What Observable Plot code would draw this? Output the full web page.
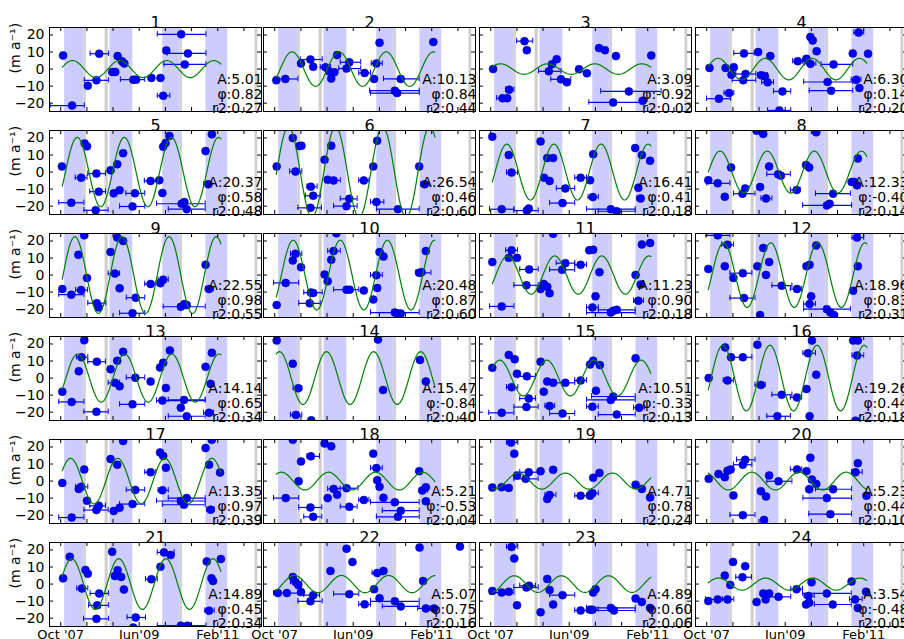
<!DOCTYPE html>
<html><head><meta charset="utf-8">
<script src="https://cdn.jsdelivr.net/npm/d3@7"></script>
<script src="https://cdn.jsdelivr.net/npm/@observablehq/plot@0.6"></script>
<style>
html,body{margin:0;padding:0;background:#fff;overflow:hidden;}
#chart{position:relative;width:904px;height:639px;overflow:hidden;background:#fff;}
</style></head><body><div id="chart"></div>
<script>
// ---- axis / layout labels ----
const xTickMonths = [0, 20, 40];               // months since Oct 2007
const xTickLabels = ["Oct '07", "Jun'09", "Feb'11"];
const xMinorTicks = [0, 6.67, 13.33, 20, 26.67, 33.33, 40, 46.67];
const yTicks = [-20, -10, 0, 10, 20];
const yLabel = "(m a\u207B\u00B9)";
const xDomain = [-2.86, 51.15];
const yDomain = [-24.9, 24.4];

// shaded periods (months since Oct 2007)
const winterBands = [[1.0, 5.95], [12.55, 18.35], [26.0, 30.45], [37.0, 42.55]];
const greyBands = [[5.95, 6.5], [11.3, 12.1], [30.45, 31.0], [49.5, 50.2]];

// ---- per-panel fit statistics ----
const panelIds = d3.range(1, 25);
const amplitudes = [5.01,10.13,3.09,6.30,20.37,26.54,16.41,12.33,22.55,20.48,11.23,18.96,14.14,15.47,10.51,19.26,13.35,5.21,4.71,5.23,14.89,5.07,4.89,3.54];
const phis = ["0.82","0.84","-0.92","0.14","0.58","0.46","0.41","-0.40","0.98","0.87","0.90","0.83","0.65","-0.84","-0.33","0.44","0.97","-0.53","0.78","0.44","0.45","0.75","0.60","-0.48"];
const r2s = ["0.27","0.44","0.02","0.20","0.48","0.60","0.18","0.14","0.55","0.60","0.18","0.31","0.34","0.40","0.13","0.18","0.39","0.04","0.24","0.10","0.34","0.16","0.06","0.05"];
const peakMonths = [3.0,4.4,2.5,2.9,4.2,3.5,4.1,3.4,3.6,4.7,4.3,4.3,4.3,1.2,2.3,4.1,2.5,1.7,7.0,11.5,2.8,5.0,6.0,3.0];
const fitRange = [0.4, 40.8];

// ---- observations: [month, value, xerr-low, xerr-high] ----
const p01 = [[0.6,8.0],[2.9,-21.4,-2.7,6.0],[6.9,-9.8],[9.1,-6.6,6.0,12.2],[9.8,9.0,7.5,12.2],[13.1,-1.7],[13.9,-1.7],[14.5,7.6],[15.6,4.6],[16.2,3.3],[18.5,-6.2,15.2,21.4],[19.2,-6.2],[23.1,-5.2],[25.4,-5.2],[26.1,-15.7,24.6,27.8],[26.9,10.9],[30.7,20.4,24.6,37.0],[32.4,9.2,27.1,37.0],[31.6,2.7,26.3,37.0]];
const p02 = [[0.4,-6.6],[2.7,-5.8,0.1,5.9],[6.7,3.3],[9.1,5.6,6.5,12.1],[9.8,1.3],[12.9,1.1,11.6,14.2],[13.8,-1.3],[14.4,-5.6],[15.2,-1.9],[15.9,8.2],[18.3,0.3,16.3,21.9],[19.0,4.0,16.7,21.9],[22.9,-2.3,21.4,24.4],[25.3,-5.8],[25.9,3.3,24.6,27.4],[26.7,15.5],[30.6,-12.7,24.2,36.8],[31.2,-14.1,24.4,36.8],[32.1,-5.8,27.7,36.8],[40.4,15.9]];
const p03 = [[0.6,0.0],[3.0,-17.1,1.5,4.3],[4.2,-17.1],[4.7,-12.1,3.8,5.9],[8.6,16.4,6.6,10.7],[9.2,11.1],[14.8,-1.3,12.2,17.9],[15.6,2.8],[16.8,5.8],[17.9,-6.0,15.3,20.4],[19.4,-7.8],[22.5,-0.1],[24.5,-2.5],[27.6,12.3],[29.1,11.1],[31.9,7.6],[31.2,-19.6,25.0,38.3],[35.2,-13.1,28.0,43.4],[38.7,-18.6],[40.9,8.0]];
const p04 = [[0.7,0.7],[3.1,-17.4,-0.05,6.1],[4.8,0.7],[5.7,-14.1,4.4,6.9],[6.3,-3.3],[6.9,1.1],[9.3,-6.6,6.5,12.5],[9.9,-2.9,7.4,12.5],[9.5,9.2,6.9,12.1],[13.1,10.0],[13.9,-3.6,12.9,15.5],[14.8,-4.2],[15.5,-7.8,14.0,17.0],[16.2,7.6],[18.5,-24.3,15.5,21.4],[19.3,-13.1,17.0,21.4],[23.2,4.6,21.9,24.4],[25.4,6.0],[26.4,18.8],[27.0,16.8],[28.0,10.5],[26.4,3.1,24.8,27.8],[30.8,-7.6,24.7,37.2],[31.7,-12.7,26.1,37.2],[32.3,2.7,29.1,37.2],[37.2,9.2],[38.1,-6.2,36.8,39.3],[38.7,21.4,37.5,40.0],[38.9,-11.1],[41.1,9.0]];
const p05 = [[0.3,3.3],[2.7,-18.0,-0.5,5.9],[5.2,-3.3,3.7,6.7],[6.1,16.8],[6.7,15.1],[8.9,-22.4,5.9,12.1],[9.1,-0.9,6.9,11.4],[9.7,-11.5,7.4,11.4],[12.7,1.0],[13.5,-12.5],[14.4,4.6],[15.0,-10.7],[15.9,11.1],[18.3,-20.2,15.0,21.4],[18.9,-12.5,16.6,21.4],[22.9,-5.2,21.3,24.4],[25.1,-4.8],[25.9,-12.3],[26.1,14.9],[26.7,17.0],[27.7,21.2],[30.8,-18.6,24.4,36.8],[31.5,-17.6],[32.1,-21.8,27.4,36.8],[36.9,12.3],[37.6,-7.2,36.4,38.5],[38.5,22.2]];
const p06 = [[0.5,3.3],[4.6,20.0],[5.3,0.3,3.8,6.9],[6.3,15.3],[6.8,15.5],[9.2,-8.6,8.2,10.8],[9.8,-13.9,7.8,11.6],[9.1,-21.0,5.9,11.9],[12.7,7.2],[13.5,-4.5],[14.4,15.5],[15.0,-4.9,12.9,16.7],[18.3,-20.0,15.0,21.0],[19.0,-15.7,16.7,21.0],[22.7,-4.9,21.4,24.0],[25.1,3.3],[26.1,18.4],[25.9,-17.6,24.4,27.8],[31.4,-21.8,25.9,36.8],[36.8,3.3],[38.2,-7.2,37.2,39.3]];
const p07 = [[0.4,20.8],[2.8,-21.8,-0.3,5.9],[4.6,10.0],[5.3,-0.3,4.0,6.8],[9.2,-22.6,5.9,12.1],[9.7,-21.4],[12.7,18.0],[13.6,-3.3],[14.4,8.2],[15.0,-5.2],[15.9,8.2],[19.0,-9.6,16.7,21.4],[18.3,-18.2,15.0,21.4],[22.9,-3.3,21.4,24.4],[25.3,-4.8],[26.0,-14.7,24.8,27.4],[26.1,10.5],[30.6,-21.8,24.4,36.8],[32.1,-23.0,27.4,36.8],[36.8,14.1],[37.6,-9.2],[38.5,10.0],[40.6,6.6],[38.2,-15.5,37.2,38.9]];
const p08 = [[0.4,-4.8],[2.8,-6.6,0,5.9],[4.6,-14.5],[6.2,2.7],[9.1,-12.7,6.8,12.3],[9.8,-9.6],[12.7,24.3],[14.4,22.4],[13.6,-8.8],[15.1,-15.5,13.8,16.6],[15.9,3.3],[18.2,-1.3,15.3,21.3],[18.9,-2.1],[22.9,-10.5,21.3,23.8],[25.3,4.2],[26.1,2.7],[27.9,23.3],[30.6,-19.6,24.4,36.9],[31.3,-18.6],[32.2,-12.7,27.7,36.6],[36.9,-5.8],[37.6,-5.8],[38.3,-7.8],[38.5,8.0]];
const p09 = [[0.4,-8.2],[2.7,-11.5,-0.5,5.9],[4.5,11.9],[5.2,-8.8,3.8,6.8],[6.0,23.3],[6.7,-1.7],[9.2,-16.5,6.9,11.5],[9.7,-19.0],[12.7,13.5],[13.8,0.9,12.1,15.0],[14.4,22.0],[15.0,-7.8],[15.9,20.0],[19.1,-13.3,16.7,21.4],[18.3,-22.4,15.0,21.4],[22.9,-5.2,21.4,24.2],[25.4,-4.8],[26.1,-2.7,24.8,27.4],[30.6,-18.6,26.1,36.8],[31.5,-17.0],[32.1,-17.6],[36.9,6.0],[37.8,-8.2,36.8,38.9]];
const p10 = [[0.5,-17.6],[2.8,-4.6,-0.3,6.1],[4.6,8.6],[5.3,12.5,4.0,6.9],[6.7,4.6],[9.2,-10.3,7.4,12.1],[9.8,-10.5],[8.9,-16.6,6.1,11.6],[12.7,0.3],[13.5,-3.6],[14.4,9.0],[15.0,14.1,13.5,16.7],[15.7,24.5],[18.3,-8.6,15.0,21.4],[19.1,-8.6],[22.7,-9.0],[25.1,-14.3],[26.1,-7.6],[25.9,-0.1,24.4,27.4],[26.7,13.5],[27.7,10.9],[30.6,-22.0,24.4,36.8],[31.2,-22.4],[32.1,-22.6],[36.8,1.3,35.9,39.8],[37.4,1.7],[38.5,14.1]];
const p11 = [[0.4,7.6],[2.8,-18.4,-0.3,5.9],[4.6,10.1],[5.3,14.5,3.8,6.8],[6.7,10.1],[9.8,3.3,7.4,12.1],[9.1,-6.0,5.9,12.1],[12.7,-8.2],[13.5,-5.2],[14.4,-6.8],[15.0,-10.7],[15.9,24.2],[18.2,3.1,15.0,21.4],[19.0,7.0,16.7,21.4],[22.9,6.0,21.4,24.4],[25.1,14.5],[26.1,14.9],[25.9,-19.0,24.4,27.4],[26.7,-12.5],[27.7,1.7],[30.6,-22.0,24.4,36.8],[31.2,-21.0],[32.1,-20.4,27.4,36.8],[36.9,0.1],[37.6,-15.1,36.4,38.9],[38.5,18.0],[40.6,18.8],[38.2,-5.6]];
const p12 = [[0.4,3.6],[2.8,23.3,-0.2,5.9],[5.3,17.8,3.8,6.8],[4.6,5.2],[6.8,-1.7],[9.2,1.1,5.9,11.5],[9.5,-13.5,5.9,12.3],[12.9,5.2],[13.6,-23.5],[14.4,15.9],[15.1,0.1],[15.9,7.6],[19.1,-6.2,16.6,21.7],[23.0,-8.2,21.3,24.2],[25.4,5.2],[26.2,6.0],[27.9,17.4],[26.6,-12.5],[26.2,-17.0,24.7,27.7],[30.6,-20.0,24.7,36.6],[31.5,-22.0],[32.4,-23.5],[37.3,-9.2],[38.3,22.0,37.0,40.0],[38.5,5.2]];
const p13 = [[0.4,-8.0],[2.8,-14.0,-0.5,5.9],[4.6,4.0],[5.3,12.2,4.0,6.9],[6.0,22.2],[9.1,-19.8,5.9,12.1],[9.2,9.6,6.9,11.4],[12.7,5.2],[13.8,-2.8,12.1,15.0],[14.4,10.2],[15.0,-4.8],[15.9,15.4],[18.3,-15.4,15.0,21.4],[19.0,0.2,16.7,21.4],[22.9,-2.0],[25.3,6.2],[26.1,9.0],[25.9,-13.2,24.4,36.8],[26.8,-5.8],[27.8,16.2],[30.6,-17.4],[31.4,-12.8,27.4,36.8],[32.1,-22.4,27.4,36.8],[36.9,6.6],[37.8,-20.4,36.4,38.9],[38.5,14.8],[38.2,-3.4]];
const p14 = [[0.5,22.0],[4.6,8.4],[6.0,-6.0,4.7,6.9],[5.4,-21.6,4.0,6.9],[9.3,-24.8],[26.3,22.6],[27.6,-7.0],[37.0,10.6],[38.5,-2.0]];
const p15 = [[0.4,6.0],[2.8,-20.4,-0.5,5.9],[4.6,13.6],[5.3,-5.4,4.0,6.9],[6.1,11.0],[6.7,2.6],[9.1,-17.0,5.9,12.1],[9.2,1.0,6.9,11.4],[9.7,-12.0,7.4,11.4],[12.7,9.6],[13.5,-8.0],[14.4,-2.0],[15.0,-16.4,13.8,16.3],[15.9,-2.8],[18.3,-20.8,15.0,21.4],[19.0,-2.8,16.7,21.4],[22.9,-1.4,21.4,24.4],[25.3,8.0],[26.1,10.2],[25.9,-16.8,24.4,27.4],[26.8,-7.4],[27.8,7.6],[30.6,-12.8,24.4,36.8],[31.2,-10.8,25.7,36.8],[32.1,-21.4,27.4,36.8],[36.9,11.6],[37.8,-17.4,36.4,39.1]];
const p16 = [[0.5,0.0],[4.7,18.0],[5.3,-1.4,4.2,6.8],[6.2,12.2],[9.2,12.2,6.3,11.5],[12.9,19.6],[13.8,-4.0,12.3,14.9],[18.0,-22.4,15.3,21.3],[19.1,-9.8,16.6,21.7],[23.0,-11.4,21.3,24.2],[25.4,-6.4],[26.2,-22.4],[25.8,14.6,24.5,27.7],[26.8,22.0],[27.9,2.0],[37.3,22.0],[38.5,22.0],[38.3,13.2,37.0,40.0],[37.9,-25.0]];
const p17 = [[0.4,-1.1],[2.8,-21.4,-0.5,5.9],[4.6,-4.6],[5.2,-3.4,3.8,6.9],[6.0,6.8],[6.7,-11.5],[9.1,-17.0,5.9,12.1],[9.7,-14.5,7.4,11.4],[12.7,12.9],[13.5,-17.6],[14.4,9.6],[15.0,-15.7],[15.9,23.5],[18.3,-13.5,15.0,21.4],[19.0,-5.2,16.7,21.4],[22.9,5.2,21.4,24.2],[25.3,16.8],[26.1,14.7],[25.9,-5.4,24.8,27.4],[26.8,7.8],[30.6,-11.7,24.4,36.8],[31.4,-13.9,25.9,36.8],[32.1,-10.0,27.4,36.8],[36.9,19.4],[37.8,9.6],[38.5,24.2],[38.2,-16.8,37.2,39.1],[40.6,5.0]];
const p18 = [[2.8,-10.0,-0.3,6.1],[4.6,24.2],[6.1,-0.1],[6.7,11.5],[9.2,14.5,8.2,11.4],[9.1,-15.5,6.1,12.0],[9.8,-21.0,7.4,12.0],[12.7,22.0],[13.5,-10.0],[14.4,20.4],[15.0,-4.6,13.5,16.7],[15.9,-8.0],[18.3,-4.2,15.0,21.2],[19.0,-15.1,16.7,21.0],[22.7,-11.1,21.4,24.0],[25.1,16.1],[25.9,7.6,24.4,27.4],[26.1,0.5],[26.7,-3.3],[27.7,-9.8],[30.6,-12.5,24.4,36.8],[32.1,-17.4,27.4,36.8],[31.4,-21.0,25.9,36.8],[36.8,5.8],[37.6,-5.6,36.8,38.9],[38.5,-3.6],[38.5,-11.9]];
const p19 = [[0.4,-3.8],[2.8,-3.6],[4.6,-4.0],[5.2,22.6,4.0,6.9],[6.0,16.1],[6.7,3.3],[8.9,1.3,5.9,12.1],[9.7,5.2,7.4,12.1],[12.7,5.8],[14.4,-10.5],[15.0,-8.2,13.8,16.6],[15.9,6.6],[22.9,-8.6,21.4,24.4],[25.3,-8.6],[25.9,-7.2,24.8,27.4],[26.1,1.9],[27.7,4.8],[36.9,-2.1],[38.5,-4.6],[40.6,-9.6]];
const p20 = [[0.5,1.3],[3.0,4.2],[4.6,2.3],[5.3,6.0],[6.1,6.8],[6.8,-8.4],[9.2,9.6,6.8,11.5],[9.8,12.5,7.6,12.3],[9.2,-20.0,5.9,12.3],[13.8,-6.0],[14.6,-22.8],[15.1,-9.0],[15.9,3.3],[18.3,-0.1,15.3,21.7],[23.0,6.8,21.3,24.2],[25.4,5.8],[26.1,-4.8],[26.4,13.7],[26.8,0.9],[27.9,-1.7],[30.6,-10.0,24.5,36.9],[32.2,-4.8,27.7,36.9],[31.5,-19.4,26.0,36.9],[37.9,5.2,36.9,39.6],[38.5,10.5],[40.7,-8.6]];
const p21 = [[0.6,3.4],[2.3,16.0],[5.4,-2.6,4.1,6.9],[6.3,8.3],[6.9,6.1],[9.8,-5.5,7.5,12.2],[9.3,-12.5,7.1,12.2],[9.1,-20.4,5.8,12.2],[13.1,19.0],[13.8,4.8],[14.5,8.1],[15.4,4.2],[16.1,-3.2],[18.5,-25.5],[19.1,-19.6,16.9,21.6],[23.1,2.8,21.6,24.6],[25.4,10.1],[26.3,18.6,24.6,28.9],[28.0,17.0],[30.6,-24.4,24.6,37.0],[32.3,-24.4],[37.2,13.3],[37.8,-15.6,36.7,39.1],[38.4,3.4],[38.8,1.8],[40.8,14.7]];
const p22 = [[0.8,-5.3],[3.1,-5.3,-0.3,5.9],[4.6,4.2],[5.3,1.2,4.0,6.9],[6.0,-0.6],[6.7,-4.7],[9.1,-10.1,5.9,12.1],[9.8,-6.5,7.4,11.4],[14.2,7.7],[18.3,20.8],[19.8,13.0],[19.0,-5.9,15.0,21.4],[22.9,-11.9,21.4,24.4],[25.3,-3.0],[26.1,6.5,24.8,27.4],[26.7,-8.3],[27.7,7.7],[30.6,-10.1,24.4,36.8],[32.1,-13.1,27.4,36.8],[36.9,21.4],[37.8,1.8],[38.5,-14.3,36.4,39.6],[40.6,-14.3],[47.2,22.0]];
const p23 = [[0.4,-4.0],[2.8,-5.0,-0.3,5.9],[4.6,-4.5],[5.3,21.8,4.0,6.9],[6.0,15.0],[6.7,-12.5],[9.1,-2.0,5.9,12.1],[9.8,-1.0,7.4,11.4],[12.7,-16.5],[14.4,3.0],[15.0,-3.5],[15.9,-12.0],[18.3,-6.5,15.0,21.4],[22.9,-15.5,21.4,24.4],[25.3,-15.0],[25.9,-15.0,24.8,27.4],[26.1,-5.0],[26.7,-3.0],[30.6,-14.0,24.4,36.8],[31.4,-15.5,25.9,36.8],[36.9,-8.5],[38.5,-10.5],[40.6,-14.0]];
const p24 = [[0.4,-10.0],[2.8,-9.0,-0.3,5.9],[4.6,5.0],[5.3,-9.0,4.0,6.9],[6.0,-0.5],[6.7,13.0],[9.1,4.0,7.4,11.4],[9.8,10.5],[12.7,-10.5],[14.4,-5.5],[15.0,-9.0],[15.9,-5.5],[18.3,-7.5,15.0,21.4],[22.9,-3.0,21.4,24.4],[25.3,-12.0],[25.9,-7.0,24.8,27.4],[26.1,-11.0],[26.7,1.0],[30.6,-5.5,24.4,36.8],[32.1,-12.0,27.4,36.8],[36.9,1.5],[37.8,-9.0,36.4,39.6],[38.5,-14.0],[40.6,-4.5]];
const panelPoints = [p01,p02,p03,p04,p05,p06,p07,p08,p09,p10,p11,p12,p13,p14,p15,p16,p17,p18,p19,p20,p21,p22,p23,p24];

// ---- layout ----
const colLeft = [49, 263, 479, 695];
const rowTop = [27, 130, 233, 336, 439, 542];
const frameW = 212, frameH = 84;
const mL = 50, mR = 50, mT = 25, mB = 20;

const fmtY = d => d < 0 ? "\u2212" + Math.abs(d) : String(d);
const capHalf = 1.6;     // half-height of error-bar caps (y units)
const tickLenX = 1.0;    // inward tick length in months
const tickLenY = 2.4;    // inward tick length in y units

const chart = document.getElementById("chart");

panelIds.forEach((id, i) => {
  const col = i % 4, row = Math.floor(i / 4);
  const pts = panelPoints[i];
  const errs = pts.filter(d => d.length > 2);
  const caps = errs.flatMap(d => [[d[2], d[1]], [d[3], d[1]]]);
  const A = amplitudes[i], pk = peakMonths[i];
  const fit = d3.range(fitRange[0], fitRange[1] + 0.001, 0.2)
    .map(m => ({m, v: A * Math.cos(2 * Math.PI * (m - pk) / 12)}));

  const marks = [
    Plot.rect(winterBands, {x1: d => d[0], x2: d => d[1], fill: "#ccccff", clip: true}),
    Plot.rect(greyBands, {x1: d => d[0], x2: d => d[1], fill: "#cfcfcf", clip: true}),
    Plot.ruleY(errs, {y: d => d[1], x1: d => d[2], x2: d => d[3], stroke: "#0000ff", strokeWidth: 1.2, clip: true}),
    Plot.ruleX(caps, {x: d => d[0], y1: d => d[1] - capHalf, y2: d => d[1] + capHalf, stroke: "#0000ff", strokeWidth: 1, clip: true}),
    Plot.dot(pts, {x: d => d[0], y: d => d[1], r: 4, fill: "#0000ff", stroke: "#00007a", strokeWidth: 0.5, clip: true}),
    Plot.line(fit, {x: "m", y: "v", stroke: "#008000", strokeWidth: 1.2, clip: true}),
    Plot.ruleY(yTicks, {y: d => d, x1: () => xDomain[0], x2: () => xDomain[0] + tickLenX, stroke: "black"}),
    Plot.ruleY(yTicks, {y: d => d, x1: () => xDomain[1] - tickLenX, x2: () => xDomain[1], stroke: "black"}),
    Plot.ruleX(xMinorTicks, {x: d => d, y1: () => yDomain[1] - tickLenY, y2: () => yDomain[1], stroke: "black"}),
    Plot.ruleX(xMinorTicks, {x: d => d, y1: () => yDomain[0], y2: () => yDomain[0] + tickLenY, stroke: "black"}),
    Plot.frame({stroke: "black", strokeWidth: 1}),
    Plot.text([String(id)], {frameAnchor: "top", dy: -11, fontSize: 16}),
    Plot.text(["A:" + A.toFixed(2)], {frameAnchor: "top-right", dy: 47, dx: 1, textAnchor: "end", fontSize: 14}),
    Plot.text(["\u03C6:" + phis[i]], {frameAnchor: "top-right", dy: 61.5, dx: 1, textAnchor: "end", fontSize: 14}),
    Plot.text(["r2:" + r2s[i]], {frameAnchor: "top-right", dy: 76, dx: 1, textAnchor: "end", fontSize: 14})
  ];
  if (col === 0) {
    // y tick labels and axis title (left column only)
    marks.push(Plot.text(yTicks, {x: () => xDomain[0], y: d => d, text: fmtY, textAnchor: "end", dx: -5, fontSize: 14}));
    marks.push(Plot.text([yLabel], {frameAnchor: "left", dx: -34, dy: 4, rotate: -90, fontSize: 14}));
  }
  if (row === 5) {
    // x tick labels (bottom row only)
    marks.push(Plot.text(xTickMonths, {x: d => d, y: () => yDomain[0], text: d => xTickLabels[xTickMonths.indexOf(d)], lineAnchor: "top", dy: 3, fontSize: 13}));
  }

  const svg = Plot.plot({
    width: frameW + mL + mR,
    height: frameH + mT + mB,
    marginLeft: mL, marginRight: mR, marginTop: mT, marginBottom: mB,
    style: {fontFamily: "DejaVu Sans", fontSize: "13px", background: "transparent", overflow: "visible", color: "black"},
    x: {domain: xDomain, axis: null},
    y: {domain: yDomain, axis: null},
    marks
  });
  svg.style.position = "absolute";
  svg.style.left = (colLeft[col] - mL) + "px";
  svg.style.top = (rowTop[row] - mT) + "px";
  svg.style.maxWidth = "none";
  chart.appendChild(svg);
});
</script>
</body></html>
